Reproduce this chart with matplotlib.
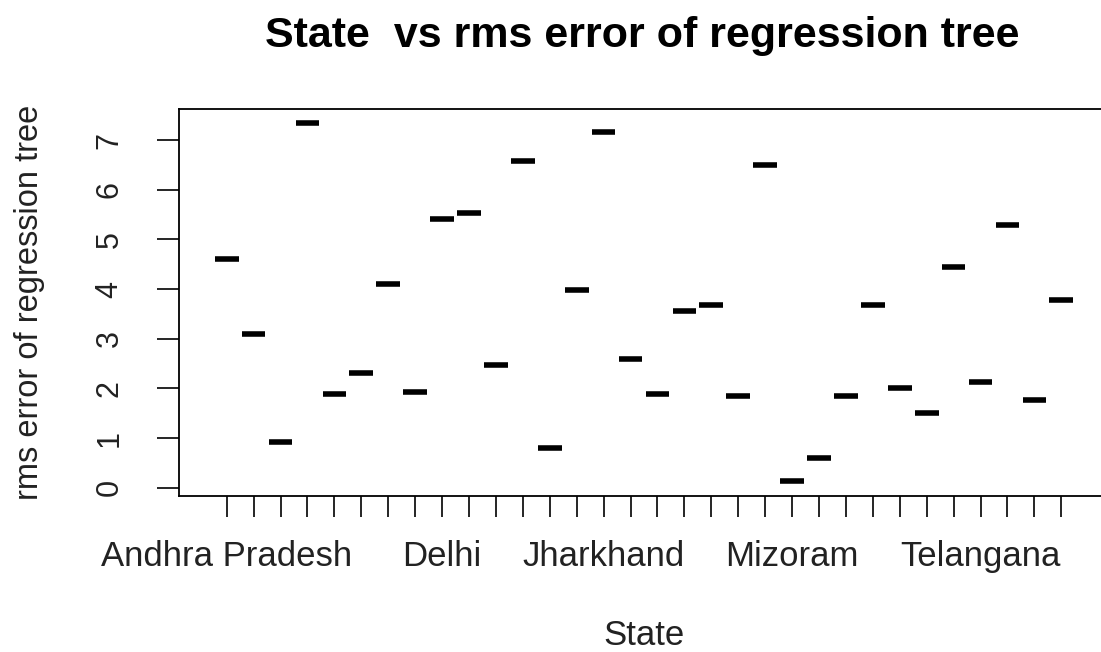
import numpy as np
import matplotlib
matplotlib.use("Agg")
import matplotlib.pyplot as plt

# Font close to the Arial used by R on Windows
plt.rcParams['font.family'] = ['Liberation Sans', 'DejaVu Sans']

# States in factor order (only some labels fit under the axis)
states = ['Andhra Pradesh', 'Arunachal Pradesh', 'Assam', 'Bihar', 'Chandigarh',
          'Chhattisgarh', 'Dadra and Nagar Haveli', 'Daman and Diu', 'Delhi', 'Goa',
          'Gujarat', 'Haryana', 'Himachal Pradesh', 'Jammu and Kashmir', 'Jharkhand',
          'Karnataka', 'Kerala', 'Madhya Pradesh', 'Maharashtra', 'Manipur',
          'Meghalaya', 'Mizoram', 'Nagaland', 'Odisha', 'Puducherry', 'Punjab',
          'Rajasthan', 'Tamil Nadu', 'Telangana', 'Tripura', 'Uttar Pradesh',
          'Uttarakhand']
shown_labels = ['Andhra Pradesh', 'Delhi', 'Jharkhand', 'Mizoram', 'Telangana']

# rms error of the regression tree per state
rms_error = [4.60, 3.10, 0.93, 7.34, 1.89, 2.30, 4.11, 1.93, 5.40, 5.53,
             2.47, 6.58, 0.79, 3.98, 7.16, 2.60, 1.89, 3.56, 3.68, 1.85,
             6.49, 0.13, 0.59, 1.85, 3.68, 2.01, 1.51, 4.44, 2.13, 5.28,
             1.76, 3.77]

y_ticks = [0, 1, 2, 3, 4, 5, 6, 7]

fig = plt.figure(figsize=(11.01, 6.52), dpi=100)
# plot region runs past the right edge of the picture (cropped R plot)
ax = fig.add_axes([0.1623, 0.2397, 0.8459, 0.5931])

pos = np.arange(1, len(states) + 1)
# each "box" has one value, so only the thick median line shows
ax.hlines(rms_error, pos - 0.44, pos + 0.44, colors='black', linewidth=4.0)

ax.set_xlim(-0.783, 33.81)
ax.set_ylim(-0.161, 7.624)

labels = [s if s in shown_labels else '' for s in states]
ax.set_xticks(pos)
ax.set_xticklabels(labels, fontsize=25, color='#222222')
ax.set_yticks(y_ticks)
ax.set_yticklabels([str(t) for t in y_ticks], fontsize=22, color='#222222',
                   rotation=90, va='center')

ax.tick_params(axis='x', length=15, width=1.2, pad=17)
ax.tick_params(axis='y', length=16, width=1.2, pad=23)
for side in ['left', 'top', 'bottom', 'right']:
    ax.spines[side].set_linewidth(1.3)

ax.set_xlabel('State', fontsize=25, color='#222222', labelpad=33)
ax.set_ylabel('rms error of regression tree', fontsize=23.5, color='#222222', labelpad=36)
fig.text(0.583, 1 - 47 / 652, 'State  vs rms error of regression tree', fontsize=31,
         fontweight='bold', ha='center', va='baseline')

plt.savefig('out.png', dpi=100)
